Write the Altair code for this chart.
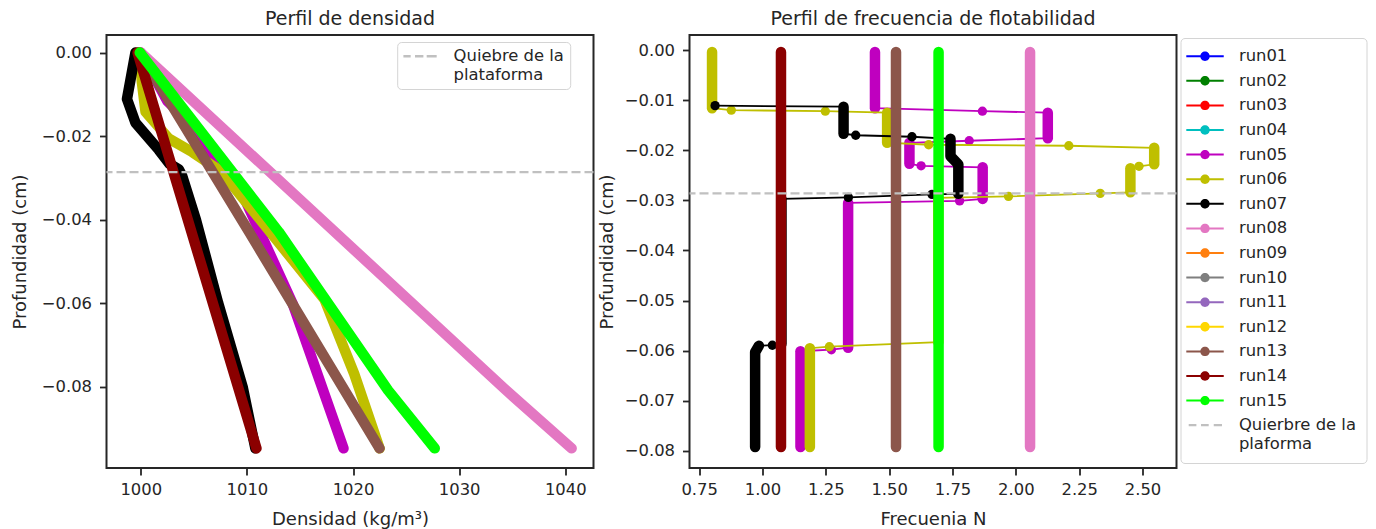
import altair as alt
import pandas as pd

FUENTE = "DejaVu Sans"
TINTA = "#262626"
GRIS_QUIEBRE = "#c0c0c0"

# Series and their colours
series = ["run01", "run02", "run03", "run04", "run05", "run06", "run07", "run08",
          "run09", "run10", "run11", "run12", "run13", "run14", "run15"]
colores = ["#0000ff", "#008000", "#ff0000", "#00bfbf", "#bf00bf", "#bfbf00", "#000000", "#e377c2",
           "#ff7f0e", "#7f7f7f", "#9467bd", "#ffd700", "#8c564b", "#8b0000", "#00ff00"]

QUIEBRE_LEYENDA = "Quierbre de la plaforma"
QUIEBRE_PANEL = "Quiebre de la plataforma"
z_quiebre = -0.0286

# Density profiles: density (kg/m3) and depth (cm)
dens_run05 = [1000.0, 1002.5, 1004.9, 1006.2, 1008.6, 1009.5, 1014.3, 1019.1]
prof_run05 = [0.0, -0.0116, -0.0176, -0.0227, -0.0297, -0.0334, -0.060, -0.0947]
dens_run06 = [999.9, 1000.1, 1000.45, 1002.65, 1004.85, 1007.6, 1017.3, 1020.1, 1022.5]
prof_run06 = [0.0, -0.007, -0.0142, -0.0206, -0.0238, -0.0285, -0.059, -0.0768, -0.0947]
dens_run07 = [999.5, 998.7, 999.5, 1001.7, 1002.7, 1003.6, 1003.9, 1005.2, 1007.3, 1009.6, 1010.8]
prof_run07 = [0.0, -0.0111, -0.0168, -0.0233, -0.0266, -0.0280, -0.0295, -0.040, -0.060, -0.080, -0.0947]
dens_run08 = [1000.0, 1034.3, 1040.6]
prof_run08 = [0.0, -0.0805, -0.0947]
dens_run13 = [999.9, 1010.2, 1022.5]
prof_run13 = [0.0, -0.0429, -0.0947]
dens_run14 = [999.7, 1010.9]
prof_run14 = [0.0, -0.0947]
dens_run15 = [999.9, 1013.0, 1023.3, 1027.7]
prof_run15 = [0.0, -0.0429, -0.0808, -0.0947]

# Buoyancy frequency profiles: each run is a sequence of stretches,
# each stretch a list of (N, depth) samples
frec_run05 = [
    [(1.444, -0.0004), (1.444, -0.0116)],
    [(1.868, -0.0122)],
    [(2.126, -0.0125), (2.126, -0.0176)],
    [(1.816, -0.0181)],
    [(1.580, -0.0185), (1.580, -0.0227)],
    [(1.626, -0.0231)],
    [(1.869, -0.0234), (1.869, -0.0297)],
    [(1.778, -0.0301)],
    [(1.338, -0.0305), (1.338, -0.0594)],
    [(1.272, -0.0598)],
    [(1.150, -0.0601), (1.150, -0.0792)],
]
frec_run06 = [
    [(0.801, -0.0004), (0.801, -0.0116)],
    [(0.877, -0.0120)],
    [(1.248, -0.0122)],
    [(1.492, -0.0125), (1.492, -0.0185)],
    [(1.656, -0.0189)],
    [(2.209, -0.0191)],
    [(2.546, -0.0195), (2.546, -0.0228)],
    [(2.486, -0.0232)],
    [(2.452, -0.0236), (2.452, -0.0284)],
    [(2.333, -0.0286)],
    [(1.971, -0.0292)],
    [(1.694, -0.0295), (1.694, -0.0583)],
    [(1.264, -0.0592)],
    [(1.187, -0.0595), (1.187, -0.0792)],
]
frec_run07 = [
    [(0.813, -0.0111)],
    [(1.320, -0.0113), (1.320, -0.0167)],
    [(1.368, -0.0170)],
    [(1.590, -0.0173)],
    [(1.742, -0.0177), (1.742, -0.0212), (1.773, -0.0228), (1.773, -0.0287)],
    [(1.669, -0.0288)],
    [(1.339, -0.0294)],
    [(1.075, -0.0297), (1.075, -0.0586)],
    [(1.039, -0.0589)],
    [(0.986, -0.0590), (0.971, -0.0603), (0.971, -0.0792)],
]
frec_run08 = [[(2.056, -0.0004), (2.056, -0.0792)]]
frec_run13 = [[(1.527, -0.0004), (1.527, -0.0792)]]
frec_run14 = [[(1.073, -0.0004), (1.073, -0.0792)]]
frec_run15 = [[(1.695, -0.0004), (1.695, -0.0792)]]

densidad = {
    "run05": (dens_run05, prof_run05), "run06": (dens_run06, prof_run06),
    "run07": (dens_run07, prof_run07), "run08": (dens_run08, prof_run08),
    "run13": (dens_run13, prof_run13), "run14": (dens_run14, prof_run14),
    "run15": (dens_run15, prof_run15),
}
frecuencia = {
    "run05": frec_run05, "run06": frec_run06, "run07": frec_run07, "run08": frec_run08,
    "run13": frec_run13, "run14": frec_run14, "run15": frec_run15,
}

# Shared colour scale: all runs plus the shelf-break entry
escala_color = alt.Scale(domain=series + [QUIEBRE_LEYENDA], range=colores + [GRIS_QUIEBRE])

# Legend symbols: line with a dot for runs, dashes for the shelf break
RUTA_SERIE = ("M-1.55,-0.125L3.13,-0.125L3.13,0.125L-1.55,0.125Z "
              "M0.2,0A0.59,0.59 0 1,1 1.38,0A0.59,0.59 0 1,1 0.2,0Z")
RUTA_GUIONES = ("M-1.25,-0.14L-0.29,-0.14L-0.29,0.14L-1.25,0.14Z "
                "M0.29,-0.14L1.25,-0.14L1.25,0.14L0.29,0.14Z "
                "M1.88,-0.14L2.91,-0.14L2.91,0.14L1.88,0.14Z")
RUTA_GUIONES_IZQ = ("M-1.0,-0.15L-0.09,-0.15L-0.09,0.15L-1.0,0.15Z "
                    "M0.45,-0.15L1.5,-0.15L1.5,0.15L0.45,0.15Z "
                    "M1.91,-0.15L3.16,-0.15L3.16,0.15L1.91,0.15Z")
es_quiebre = f"datum.value === '{QUIEBRE_LEYENDA}'"

leyenda = alt.Legend(
    title=None, orient="none", legendX=1074, legendY=3,
    symbolSize=256, symbolStrokeWidth=0, symbolOpacity=1,
    symbolType=alt.ExprRef(expr=f"{es_quiebre} ? '{RUTA_GUIONES}' : '{RUTA_SERIE}'"),
    symbolFillColor=alt.ExprRef(expr="scale('color', datum.value)"),
    labelFont=FUENTE, labelFontSize=16.4, labelColor=TINTA, labelOffset=32,
    rowPadding=7.6, padding=10,
    strokeColor="#d4d4d4", fillColor="white", cornerRadius=4,
    labelExpr=f"{es_quiebre} ? ['Quierbre de la', ' plaforma'] : datum.label",
)

color = alt.Color("serie:N", scale=escala_color, legend=leyenda)

# ---------- left panel: density ----------
x_dens = alt.X("densidad:Q", scale=alt.Scale(domain=[996.77, 1042.66], nice=False, zero=False),
               axis=alt.Axis(title="Densidad (kg/m³)", values=[1000, 1010, 1020, 1030, 1040], format="d",
                             titlePadding=13))
y_dens = alt.Y("profundidad:Q", scale=alt.Scale(domain=[-0.0994, 0.0042], nice=False, zero=False),
               axis=alt.Axis(title="Profundidad (cm)", values=[0, -0.02, -0.04, -0.06, -0.08],
                             format=".2f", labelPadding=8, titlePadding=12))

capas_izq = []
for run, (dens, prof) in densidad.items():
    df = pd.DataFrame({"serie": run, "densidad": dens, "profundidad": prof, "orden": range(len(dens))})
    capas_izq.append(
        alt.Chart(df).mark_line(strokeWidth=10.5, strokeCap="round", strokeJoin="round").encode(
            x=x_dens, y=y_dens, order="orden:Q", color=color)
    )

leyenda_izq = alt.Legend(
    title=None, orient="none", legendX=290.7, legendY=7,
    symbolType=RUTA_GUIONES_IZQ, symbolSize=256, symbolStrokeWidth=0,
    symbolFillColor=GRIS_QUIEBRE, symbolOpacity=1,
    labelFont=FUENTE, labelFontSize=16.4, labelColor=TINTA, labelOffset=34, padding=6,
    strokeColor="#d4d4d4", fillColor="white", cornerRadius=4,
    labelExpr="['Quiebre de la', ' plataforma']",
)
df_quiebre_izq = pd.DataFrame({"profundidad": [z_quiebre], "etiqueta": [QUIEBRE_PANEL]})
capas_izq.append(
    alt.Chart(df_quiebre_izq).mark_rule(color=GRIS_QUIEBRE, strokeWidth=2.4).encode(
        y=y_dens,
        strokeDash=alt.StrokeDash("etiqueta:N", scale=alt.Scale(domain=[QUIEBRE_PANEL], range=[[9, 4]]),
                                  legend=leyenda_izq),
    )
)

panel_izq = alt.layer(*capas_izq).properties(
    width=487, height=433, title=alt.TitleParams("Perfil de densidad"))

# ---------- right panel: buoyancy frequency ----------
x_frec = alt.X("N:Q", scale=alt.Scale(domain=[0.712, 2.634], nice=False, zero=False),
               axis=alt.Axis(title="Frecuenia N", values=[0.75, 1.0, 1.25, 1.5, 1.75, 2.0, 2.25, 2.5],
                             format=".2f", titlePadding=13))
y_frec = alt.Y("profundidad:Q", scale=alt.Scale(domain=[-0.0834, 0.003], nice=False, zero=False),
               axis=alt.Axis(title="Profundidad (cm)",
                             values=[0, -0.01, -0.02, -0.03, -0.04, -0.05, -0.06, -0.07, -0.08],
                             format=".2f", labelPadding=8, titlePadding=8))

capas_der = []
for run, tramos in frecuencia.items():
    filas = []
    k = 0
    for i, tramo in enumerate(tramos):
        for n, z in tramo:
            filas.append({"serie": run, "tramo": f"{run}-{i}", "muestras": len(tramo),
                          "N": n, "profundidad": z, "orden": k})
            k += 1
    df = pd.DataFrame(filas)
    base = alt.Chart(df).encode(x=x_frec, y=y_frec, color=color)
    fina = base.mark_line(strokeWidth=1.8).encode(order="orden:Q")
    gruesa = base.transform_filter("datum.muestras > 1").mark_line(
        strokeWidth=10.5, strokeCap="round", strokeJoin="round").encode(detail="tramo:N", order="orden:Q")
    puntos = base.transform_filter("datum.muestras == 1").mark_circle(size=87, opacity=1)
    capas_der += [fina, gruesa, puntos]

df_quiebre_der = pd.DataFrame({"profundidad": [z_quiebre], "serie": [QUIEBRE_LEYENDA]})
capas_der.append(
    alt.Chart(df_quiebre_der).mark_rule(strokeWidth=2.4, strokeDash=[9, 4]).encode(y=y_frec, color=color)
)

panel_der = alt.layer(*capas_der).properties(
    width=487, height=433, title=alt.TitleParams("Perfil de frecuencia de flotabilidad"))

chart = (
    alt.hconcat(panel_izq, panel_der, spacing=0)
    .resolve_scale(strokeDash="independent")
    .resolve_legend(strokeDash="independent")
    .properties(padding={"left": 9.5, "top": 9, "right": 0, "bottom": 0}, background="white")
    .configure_axis(labelFont=FUENTE, labelFontSize=16.4, labelColor=TINTA,
                    titleFont=FUENTE, titleFontSize=18, titleFontWeight="normal", titleColor=TINTA,
                    tickColor=TINTA, tickWidth=1.8, tickSize=7, labelPadding=6,
                    domain=False, grid=False)
    .configure_view(stroke=TINTA, strokeWidth=2)
    .configure_title(font=FUENTE, fontSize=19, fontWeight="normal", color=TINTA, offset=6)
)

chart.save("out.html", embed_options={"renderer": "svg", "actions": False})
